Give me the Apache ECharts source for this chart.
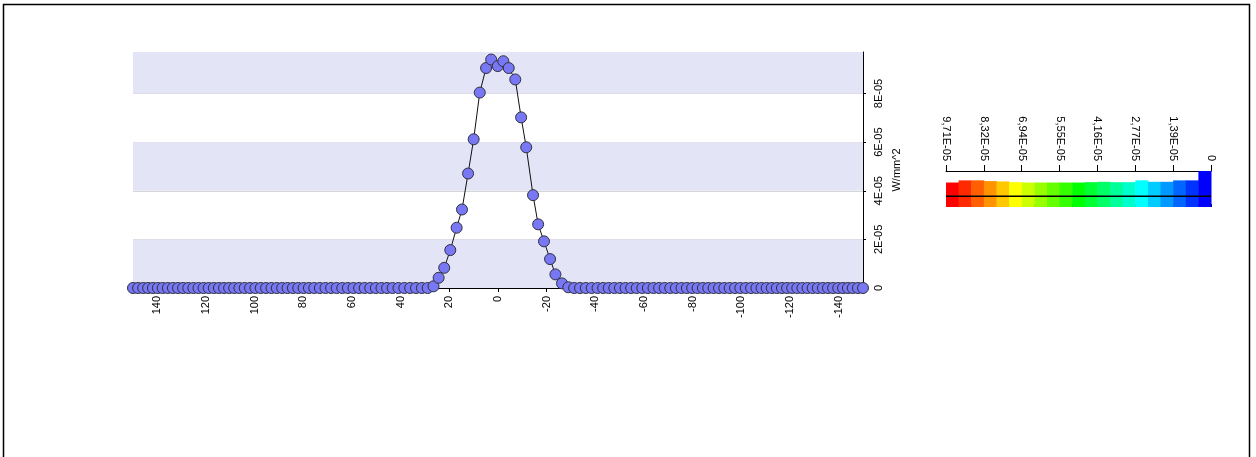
<!DOCTYPE html>
<html>
<head>
<meta charset="utf-8">
<script src="https://cdn.jsdelivr.net/npm/echarts@6/dist/echarts.min.js"></script>
<style>
  html, body { margin: 0; padding: 0; background: #ffffff; }
  #chart { width: 1256px; height: 457px; }
</style>
</head>
<body>
<div id="chart"></div>
<script>
// Probe positions along the profile line (mm), left to right on the reversed axis
const positions = [
  150, 147.9, 145.8, 143.8, 141.8, 139.8, 137.8, 135.7, 133.6, 131.5,
  129.4, 127.3, 125.2, 123.1, 121.0, 118.9, 116.8, 114.7, 112.6, 110.5,
  108.4, 106.3, 104.1, 101.9, 99.7, 97.5, 95.3, 93.1, 90.9, 88.7,
  86.5, 84.3, 82.1, 79.9, 77.7, 75.5, 73.2, 70.9, 68.6, 66.3,
  64.0, 61.7, 59.4, 57.1, 54.8, 52.5, 50.2, 47.9, 45.6, 43.3,
  40.9, 38.5, 36.1, 33.7, 31.3, 28.9, 26.5,
  24.4, 22.1, 19.6, 17.0, 14.8, 12.3, 10.0, 7.5, 4.9, 2.8,
  0.1, -2.2, -4.4, -7.1, -9.5, -11.6, -14.4, -16.5, -18.9, -21.4,
  -23.6, -26.3,
  -28.9, -31.3, -33.7, -36.1, -38.5, -40.9, -43.2, -45.5, -47.8, -50.1,
  -52.4, -54.7, -57.0, -59.3, -61.6, -63.9, -66.2, -68.5, -70.8, -73.1,
  -75.4, -77.6, -79.8, -82.0, -84.2, -86.4, -88.6, -90.8, -93.0, -95.2,
  -97.4, -99.6, -101.8, -104.0, -106.2, -108.3, -110.4, -112.5, -114.6, -116.7,
  -118.8, -120.9, -123.0, -125.1, -127.2, -129.3, -131.4, -133.5, -135.6, -137.7,
  -139.8, -141.8, -143.8, -145.8, -147.9, -150
];

// Irradiance at each probe position (W/mm^2)
const irradiance = [
  0, 0, 0, 0, 0, 0, 0, 0, 0, 0,
  0, 0, 0, 0, 0, 0, 0, 0, 0, 0,
  0, 0, 0, 0, 0, 0, 0, 0, 0, 0,
  0, 0, 0, 0, 0, 0, 0, 0, 0, 0,
  0, 0, 0, 0, 0, 0, 0, 0, 0, 0,
  0, 0, 0, 0, 0, 0, 0.07e-5,
  0.42e-5, 0.83e-5, 1.56e-5, 2.48e-5, 3.23e-5, 4.71e-5, 6.12e-5, 8.04e-5, 9.05e-5, 9.40e-5,
  9.13e-5, 9.33e-5, 9.05e-5, 8.58e-5, 7.02e-5, 5.79e-5, 3.82e-5, 2.62e-5, 1.92e-5, 1.19e-5,
  0.56e-5, 0.19e-5,
  0.03e-5, 0, 0, 0, 0, 0, 0, 0, 0, 0,
  0, 0, 0, 0, 0, 0, 0, 0, 0, 0,
  0, 0, 0, 0, 0, 0, 0, 0, 0, 0,
  0, 0, 0, 0, 0, 0, 0, 0, 0, 0,
  0, 0, 0, 0, 0, 0, 0, 0, 0, 0,
  0, 0, 0, 0, 0, 0
];

// Axis ticks of the profile plot
const xTicks = [140, 120, 100, 80, 60, 40, 20, 0, -20, -40, -60, -80, -100, -120, -140];
const yTicks = [0, 2e-5, 4e-5, 6e-5, 8e-5];
const yMax = 9.71e-5;

// Colour scale: value range, labelled ticks and the 21 colour bands (high to low)
const scaleMax = 9.71e-5;
const scaleTickValues = [9.71e-5, 8.32e-5, 6.94e-5, 5.55e-5, 4.16e-5, 2.77e-5, 1.39e-5, 0];
const scaleTickLabels = ['9,71E-05', '8,32E-05', '6,94E-05', '5,55E-05', '4,16E-05', '2,77E-05', '1,39E-05', '0'];
const bandColors = [
  '#ff0000', '#ff2a00', '#ff5f00', '#ff9400', '#ffc800', '#ffff00', '#ccff00',
  '#99ff00', '#66ff00', '#33ff00', '#00ff00', '#00ff33', '#00ff66', '#00ff99',
  '#00ffcc', '#00ffff', '#00ccff', '#0099ff', '#0066ff', '#0033ff', '#0000ff'
];
// Fill level of each band (percent of the bar height)
const bandFill = [68, 74, 74, 72, 71, 69, 68, 68, 68, 68, 68, 69, 70, 69, 69, 74, 70, 70, 74, 74, 100];

const FONT = '"Liberation Sans", Arial, sans-serif';

const lineData = positions.map((p, i) => [p, irradiance[i]]);

// Alternate shaded stripes between the y ticks, starting at the bottom
const stripeEdges = yTicks.concat([yMax]);
const stripes = [];
for (let i = 0; i < stripeEdges.length - 1; i += 2) {
  stripes.push([{ yAxis: stripeEdges[i] }, { yAxis: stripeEdges[i + 1] }]);
}

const bandStep = scaleMax / bandColors.length;
const bandEdges = bandColors.map((c, i) => scaleMax - i * bandStep).concat([0]);
const bandData = bandColors.map((c, i) => [bandEdges[i], bandEdges[i + 1], bandFill[i]]);

function scaleLabel(v) {
  let best = 0;
  scaleTickValues.forEach((t, i) => {
    if (Math.abs(t - v) < Math.abs(scaleTickValues[best] - v)) best = i;
  });
  return scaleTickLabels[best];
}

const chart = echarts.init(document.getElementById('chart'), null, { renderer: 'canvas' });

chart.setOption({
  animation: false,
  backgroundColor: '#ffffff',
  textStyle: { fontFamily: FONT },
  grid: [
    { left: 133, right: 393, top: 52, bottom: 169 },
    { left: 946, top: 171, width: 265, height: 36 }
  ],
  xAxis: [
    {
      gridIndex: 0,
      type: 'value',
      min: -150,
      max: 150,
      inverse: true,
      axisLine: { show: true, onZero: false, lineStyle: { color: '#000', width: 1 } },
      axisTick: { show: true, customValues: xTicks, length: 4, lineStyle: { color: '#000' } },
      axisLabel: {
        customValues: xTicks,
        rotate: 90,
        margin: 8,
        fontSize: 11,
        color: '#000',
        fontFamily: FONT
      },
      splitLine: { show: false }
    },
    {
      gridIndex: 1,
      type: 'value',
      min: 0,
      max: scaleMax,
      inverse: true,
      position: 'top',
      axisLine: { show: true, onZero: false, lineStyle: { color: '#000', width: 1 } },
      axisTick: { show: true, customValues: scaleTickValues, length: 6, lineStyle: { color: '#000' } },
      axisLabel: {
        customValues: scaleTickValues,
        formatter: scaleLabel,
        rotate: 90,
        margin: 10,
        fontSize: 11,
        color: '#000',
        fontFamily: FONT
      },
      splitLine: { show: false }
    },
    {
      gridIndex: 1,
      type: 'value',
      min: 0,
      max: scaleMax,
      inverse: true,
      position: 'top',
      axisLine: { show: false },
      axisTick: { show: true, customValues: bandEdges, length: 3, lineStyle: { color: '#000' } },
      axisLabel: { show: false },
      splitLine: { show: false }
    }
  ],
  yAxis: [
    {
      gridIndex: 0,
      type: 'value',
      position: 'right',
      min: 0,
      max: yMax,
      interval: 2e-5,
      name: 'W/mm^2',
      nameLocation: 'middle',
      nameRotate: 90,
      nameGap: 22,
      nameTextStyle: { fontSize: 11, color: '#000', fontFamily: FONT },
      axisLine: { show: true, onZero: false, lineStyle: { color: '#000', width: 1 } },
      axisTick: { show: true, customValues: yTicks, length: 3, lineStyle: { color: '#000' } },
      axisLabel: {
        customValues: yTicks,
        rotate: 90,
        margin: 10,
        fontSize: 11,
        color: '#000',
        fontFamily: FONT,
        formatter: v => (v === 0 ? '0' : Math.round(v * 1e5) + 'E-05')
      },
      splitLine: { show: true, lineStyle: { color: '#d6d6d6', width: 1 } },
      splitArea: { show: false }
    },
    {
      gridIndex: 1,
      type: 'value',
      min: 0,
      max: 100,
      show: false
    }
  ],
  series: [
    {
      type: 'line',
      xAxisIndex: 0,
      yAxisIndex: 0,
      data: lineData,
      clip: false,
      symbol: 'circle',
      symbolSize: 11,
      showAllSymbol: true,
      lineStyle: { color: '#111', width: 1 },
      itemStyle: { color: '#7878f4', borderColor: '#303040', borderWidth: 1 },
      emphasis: { disabled: true },
      markArea: {
        silent: true,
        itemStyle: { color: '#e4e4f7' },
        data: stripes
      },
      z: 3
    },
    {
      type: 'custom',
      xAxisIndex: 1,
      yAxisIndex: 1,
      data: bandData,
      renderItem(params, api) {
        const a = api.coord([api.value(0), api.value(2)]);
        const b = api.coord([api.value(1), 0]);
        const x = Math.min(a[0], b[0]);
        return {
          type: 'rect',
          shape: { x: x, y: a[1], width: Math.abs(b[0] - a[0]) + 0.5, height: b[1] - a[1] },
          style: { fill: bandColors[params.dataIndex] }
        };
      },
      silent: true
    },
    {
      type: 'line',
      xAxisIndex: 1,
      yAxisIndex: 1,
      data: [[scaleMax, 30], [0, 30]],
      symbol: 'none',
      lineStyle: { color: '#000', width: 1.5 },
      silent: true,
      z: 4
    }
  ],
  graphic: [
    {
      type: 'rect',
      shape: { x: 3.5, y: 4.5, width: 1246, height: 470 },
      style: { fill: 'none', stroke: '#000', lineWidth: 1.5 },
      silent: true,
      z: 10
    }
  ]
});
</script>
</body>
</html>
